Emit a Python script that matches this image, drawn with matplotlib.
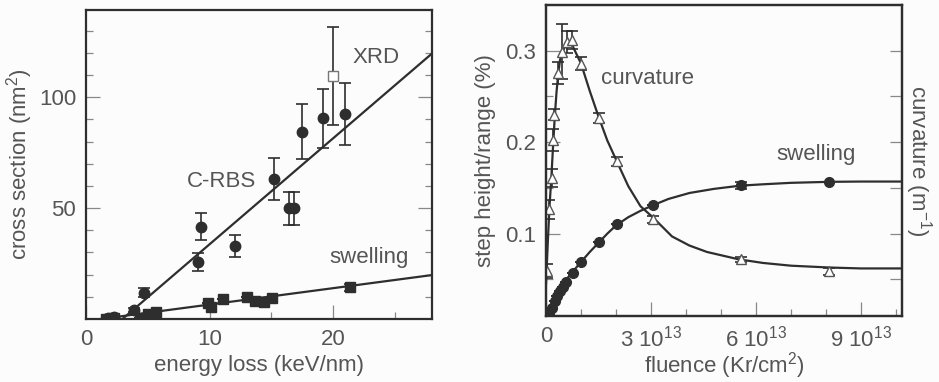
import numpy as np
import matplotlib
matplotlib.use('Agg')
import matplotlib.pyplot as plt

plt.rcParams['font.family'] = ['Liberation Sans', 'DejaVu Sans']
plt.rcParams['mathtext.fontset'] = 'custom'
plt.rcParams['mathtext.rm'] = 'Liberation Sans'
plt.rcParams['mathtext.default'] = 'regular'

TXT = '#555555'
INK = '#2e2e2e'

# ---- left panel: cross section vs energy loss ----
rbs_x = [1.8, 2.1, 2.3, 3.9, 4.7, 9.06, 9.27, 12.04, 15.24, 16.4, 16.8, 17.47, 19.17, 20.97]
rbs_y = [0.3, 0.5, 1.0, 4.0, 11.8, 25.8, 41.6, 32.9, 63.1, 49.9, 49.9, 84.5, 90.4, 92.6]
rbs_err = [0, 0, 0, 1, 2, 4, 6, 5, 9.5, 7.5, 7.5, 12.6, 13.5, 14]

xrd_x = [19.97]
xrd_y = [109.5]
xrd_err = [22]

swl_x = [1.6, 1.9, 2.3, 4.4, 5.0, 5.7, 9.86, 10.1, 11.1, 13.05, 13.7, 14.4, 15.05, 21.4]
swl_y = [0.0, 0.2, 0.5, 0.6, 2.1, 3.0, 7.1, 5.5, 9.0, 10.1, 8.1, 7.8, 9.6, 14.3]
swl_err = [0, 0, 0, 0, 0, 0, 0, 0, 0, 0, 0, 0, 0, 1.5]

rbs_fit_x = [2.95, 28]
rbs_fit_y = [0, 119.7]
swl_fit_x = [1.2, 28]
swl_fit_y = [0, 19.8]

# ---- right panel: step height / curvature vs fluence (units of 1e13 Kr/cm2) ----
sw_flu = [0.077, 0.162, 0.257, 0.324, 0.40, 0.476, 0.571, 0.762, 1.01, 1.52, 2.04, 3.05, 5.57, 8.08]
sw_h = [0.012, 0.019, 0.0265, 0.032, 0.0374, 0.0422, 0.0472, 0.0575, 0.069, 0.091, 0.111, 0.131, 0.1527, 0.156]
sw_err = [0, 0, 0, 0, 0, 0, 0, 0, 0, 0, 0, 0, 0.004, 0]

cv_flu = [0.02, 0.094, 0.16, 0.21, 0.24, 0.35, 0.47, 0.59, 0.75, 0.99, 1.52, 2.04, 3.05, 5.57, 8.08]
cv_val = [0.059, 0.1265, 0.161, 0.202, 0.230, 0.276, 0.299, 0.310, 0.312, 0.286, 0.2265, 0.179, 0.1156, 0.072, 0.059]
cv_err = [0.008, 0.01, 0.01, 0.012, 0.006, 0.012, 0.03, 0.012, 0.01, 0.007, 0.006, 0.005, 0.004, 0.003, 0.004]

sw_curve_x = [0.0, 0.1, 0.2, 0.35, 0.5, 0.75, 1.0, 1.25, 1.5, 1.75, 2.0, 2.35, 2.7, 3.05,
              3.5, 4.1, 4.8, 5.55, 6.2, 7.0, 8.1, 9.0, 10.2]
sw_curve_y = [0.011, 0.019, 0.027, 0.037, 0.046, 0.058, 0.069, 0.080, 0.090, 0.100, 0.109,
              0.118, 0.125, 0.131, 0.138, 0.1445, 0.149, 0.1525, 0.154, 0.1556, 0.1567, 0.157, 0.157]

cv_curve_x = [0.0, 0.05, 0.1, 0.15, 0.2, 0.25, 0.3, 0.35, 0.4, 0.47, 0.55, 0.65, 0.75, 0.85,
              1.0, 1.25, 1.5, 1.75, 2.0, 2.35, 2.7, 3.05, 3.6, 4.1, 4.6, 5.5, 6.2, 7.0, 8.1, 9.0, 10.2]
cv_curve_y = [0.045, 0.09, 0.13, 0.16, 0.195, 0.228, 0.255, 0.275, 0.29, 0.299, 0.305, 0.307,
              0.306, 0.298, 0.286, 0.256, 0.228, 0.202, 0.181, 0.152, 0.130, 0.118, 0.097,
              0.087, 0.080, 0.072, 0.068, 0.065, 0.063, 0.062, 0.062]

flu_ticks = [3, 6, 9]
flu_labels = [r'3 10$^{13}$', r'6 10$^{13}$', r'9 10$^{13}$']

FS = 16


def style_axes(ax):
  for s in ax.spines.values():
    s.set_color(INK)
    s.set_linewidth(1.6)
  ax.tick_params(which='both', direction='in', colors='#888888', labelcolor=TXT,
                 labelsize=FS, width=0.9)
  ax.tick_params(which='major', length=10, pad=7)
  ax.tick_params(which='minor', length=5)


fig = plt.figure(figsize=(9.39, 3.82), dpi=100)
fig.patch.set_facecolor('#fcfcfc')

ax1 = fig.add_axes([0.0916, 0.165, 0.3685, 0.810])
ax1.set_facecolor('#fcfcfc')
ax1.plot(rbs_fit_x, rbs_fit_y, '-', color=INK, lw=1.6)
ax1.plot(swl_fit_x, swl_fit_y, '-', color=INK, lw=1.6)
ax1.errorbar(rbs_x, rbs_y, yerr=rbs_err, fmt='o', color=INK, ms=7.5, capsize=4,
             elinewidth=1.2, capthick=1.2)
ax1.errorbar(swl_x, swl_y, yerr=swl_err, fmt='s', color=INK, ms=7, capsize=4,
             elinewidth=1.2, capthick=1.2)
ax1.errorbar(xrd_x, xrd_y, yerr=xrd_err, fmt='s', color=INK, mfc='white', mec='#777777',
             ms=7, capsize=4, elinewidth=1.2, capthick=1.2)
ax1.set_xlim(0, 28)
ax1.set_ylim(0, 139.5)
ax1.set_xticks([0, 10, 20])
ax1.set_xticks([5, 15, 25], minor=True)
ax1.set_yticks([50, 100])
ax1.set_yticks([10, 20, 30, 40, 60, 70, 80, 90, 110, 120, 130], minor=True)
ax1.tick_params(which='both', right=True)
style_axes(ax1)
ax1.set_xlabel('energy loss (keV/nm)', fontsize=FS, color=TXT)
ax1.xaxis.set_label_coords(0.5, -0.115)
ax1.set_ylabel('cross section (nm$^2$)', fontsize=FS, color=TXT, labelpad=3)
ax1.text(21.6, 117.9, 'XRD', fontsize=FS, color=TXT, va='center')
ax1.text(8.15, 61.8, 'C-RBS', fontsize=FS, color=TXT, va='center')
ax1.text(19.7, 27.8, 'swelling', fontsize=FS, color=TXT, va='center')

ax2 = fig.add_axes([0.5815, 0.1728, 0.379, 0.814])
ax2.set_facecolor('#fcfcfc')
ax2.plot(sw_curve_x, sw_curve_y, '-', color=INK, lw=1.6)
ax2.plot(cv_curve_x, cv_curve_y, '-', color=INK, lw=1.6)
ax2.errorbar(sw_flu, sw_h, yerr=sw_err, fmt='o', color=INK, ms=7, capsize=4,
             elinewidth=1.2, capthick=1.2)
ax2.errorbar(cv_flu, cv_val, yerr=cv_err, fmt='^', color=INK, mfc='white', mec='#555555',
             ms=7.5, capsize=4.5, elinewidth=1.2, capthick=1.2)
ax2.set_xlim(0, 10.17)
ax2.set_ylim(0.01, 0.35)
ax2.set_xticks([0] + flu_ticks)
ax2.set_xticklabels(['0'] + flu_labels)
ax2.set_xticks([1, 2, 4, 5, 7, 8, 10], minor=True)
ax2.set_yticks([0.1, 0.2, 0.3])
ax2.set_yticklabels(['0.1', '0.2', '0.3'])
ax2.set_yticks([0.05, 0.15, 0.25], minor=True)
style_axes(ax2)
ax2.set_xlabel('fluence (Kr/cm$^2$)', fontsize=FS, color=TXT)
ax2.xaxis.set_label_coords(0.5, -0.11)
ax2.set_ylabel('step height/range (%)', fontsize=FS, color=TXT, labelpad=7)
ax2.text(1.56, 0.270, 'curvature', fontsize=FS, color=TXT, va='center')
ax2.text(6.57, 0.1865, 'swelling', fontsize=FS, color=TXT, va='center')

ax3 = ax2.twinx()
ax3.set_ylim(0.01, 0.35)
ax3.set_yticks([0.05, 0.1, 0.15, 0.2, 0.25, 0.3])
ax3.set_yticklabels([])
style_axes(ax3)
ax3.tick_params(which='major', length=9)
ax3.set_ylabel('curvature (m$^{-1}$)', fontsize=FS, color=TXT, rotation=270, labelpad=16)

plt.savefig('out.png', dpi=100, facecolor=fig.get_facecolor())
